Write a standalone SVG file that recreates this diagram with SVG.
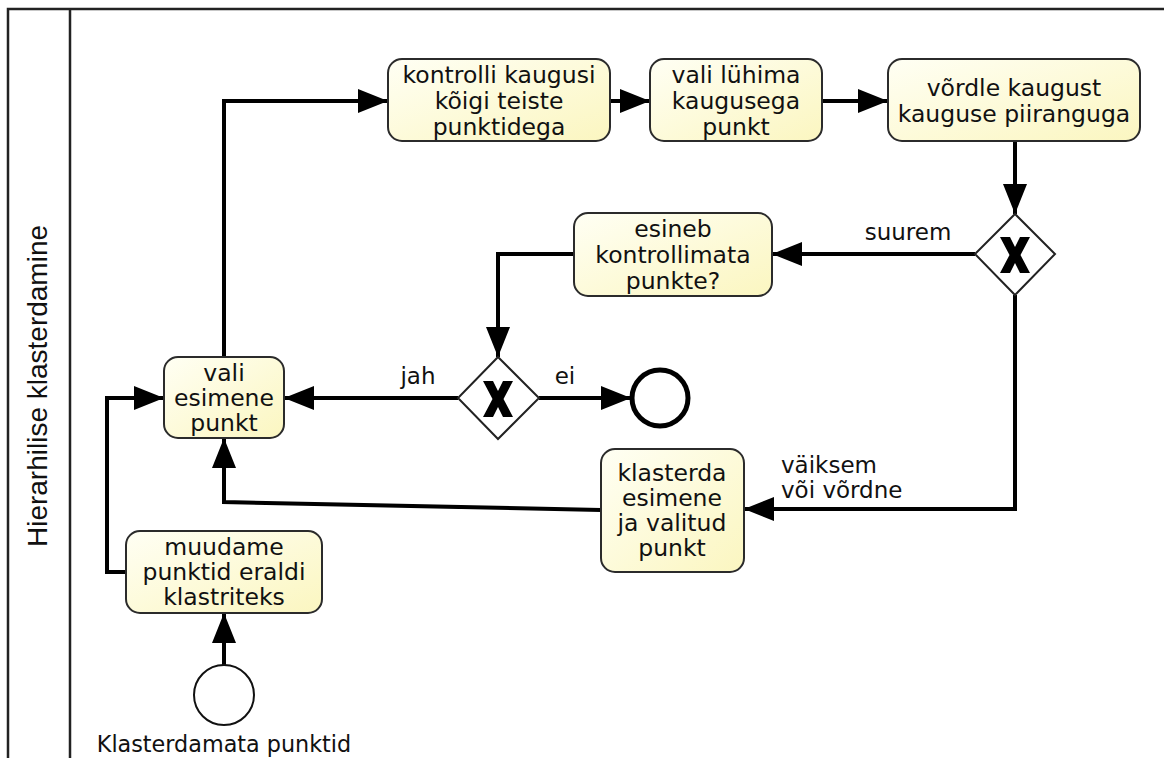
<svg xmlns="http://www.w3.org/2000/svg" width="1164" height="758" viewBox="0 0 1164 758">
<style>
.task{fill:url(#tg);stroke:#2b2b2b;stroke-width:2}
.t{font-family:"DejaVu Sans",sans-serif;font-size:23.5px;fill:#111;text-anchor:middle}
.lbl{font-family:"DejaVu Sans",sans-serif;font-size:23px;fill:#111}
.gw{fill:#fff;stroke:#222;stroke-width:2}
.xm{fill:#000}
.c{fill:none;stroke:#000;stroke-width:4;marker-end:url(#ah)}
.pool{fill:none;stroke:#222;stroke-width:2.5}
</style>
<defs>
<linearGradient id="tg" x1="0" y1="0" x2="1" y2="1">
<stop offset="0" stop-color="#fffff4"/>
<stop offset="1" stop-color="#fbf6c0"/>
</linearGradient>
<marker id="ah" markerUnits="userSpaceOnUse" markerWidth="30" markerHeight="24" refX="30" refY="12" orient="auto">
<path d="M0,0 L30,12 L0,24 z" fill="#000"/>
</marker>
</defs>
<rect width="1164" height="758" fill="#fff"/>
<g id="pool">
<path class="pool" d="M8,758 V9 H1164 M70,9 V758"/>
<text x="0" y="0" transform="translate(47,386) rotate(-90)" font-family="Liberation Sans,Arial,sans-serif" font-size="28" text-anchor="middle" fill="#111">Hierarhilise klasterdamine</text>
</g>
<g id="connectors">
<path class="c" d="M224,357 V101 H388"/>
<path class="c" d="M610,101 H650"/>
<path class="c" d="M822,101 H888"/>
<path class="c" d="M1015,141 V214"/>
<path class="c" d="M975,254 H772"/>
<path class="c" d="M574,254 H498 V357"/>
<path class="c" d="M458,398 H284"/>
<path class="c" d="M539,398 H631"/>
<path class="c" d="M1015,295 V509 H744"/>
<path class="c" d="M601,510 L224,502 V438"/>
<path class="c" d="M126,572 H107 V398 H164"/>
<path class="c" d="M224,665 V613"/>
<text class="lbl" x="908" y="240" text-anchor="middle">suurem</text>
<text class="lbl" x="418" y="384" text-anchor="middle">jah</text>
<text class="lbl" x="565" y="384" text-anchor="middle">ei</text>
<text class="lbl" x="781" y="473">väiksem</text>
<text class="lbl" x="781" y="498">või võrdne</text>
</g>
<g id="kontrolli">
<rect class="task" x="388" y="59" width="222" height="82" rx="14"/>
<text class="t" x="499" y="83">kontrolli kaugusi<tspan x="499" dy="26">kõigi teiste</tspan><tspan x="499" dy="26">punktidega</tspan></text>
</g>
<g id="vali_luhima">
<rect class="task" x="650" y="59" width="172" height="82" rx="14"/>
<text class="t" x="736" y="83">vali lühima<tspan x="736" dy="26">kaugusega</tspan><tspan x="736" dy="26">punkt</tspan></text>
</g>
<g id="vordle">
<rect class="task" x="888" y="59" width="252" height="82" rx="14"/>
<text class="t" x="1014" y="96">võrdle kaugust<tspan x="1014" dy="26">kauguse piiranguga</tspan></text>
</g>
<g id="gateway1">
<polygon class="gw" points="1015,214 1055,254 1015,295 975,254"/>
<polygon class="xm" transform="translate(1015,255)" points="-15,-18 -5,-18 0,-8 5,-18 15,-18 5.5,0 15,18 5,18 0,8 -5,18 -15,18 -5.5,0"/>
</g>
<g id="esineb">
<rect class="task" x="574" y="213" width="198" height="83" rx="14"/>
<text class="t" x="673" y="237">esineb<tspan x="673" dy="26">kontrollimata</tspan><tspan x="673" dy="26">punkte?</tspan></text>
</g>
<g id="gateway2">
<polygon class="gw" points="498,357 539,398 498,439 458,398"/>
<polygon class="xm" transform="translate(498,399)" points="-15,-18 -5,-18 0,-8 5,-18 15,-18 5.5,0 15,18 5,18 0,8 -5,18 -15,18 -5.5,0"/>
</g>
<g id="end">
<circle cx="660" cy="398" r="28" fill="#fff" stroke="#000" stroke-width="5"/>
</g>
<g id="vali_esimene">
<rect class="task" x="164" y="357" width="120" height="81" rx="14"/>
<text class="t" x="224" y="381">vali<tspan x="224" dy="25">esimene</tspan><tspan x="224" dy="25">punkt</tspan></text>
</g>
<g id="klasterda">
<rect class="task" x="601" y="449" width="143" height="123" rx="14"/>
<text class="t" x="672" y="481">klasterda<tspan x="672" dy="25">esimene</tspan><tspan x="672" dy="25">ja valitud</tspan><tspan x="672" dy="25">punkt</tspan></text>
</g>
<g id="muudame">
<rect class="task" x="126" y="531" width="196" height="82" rx="14"/>
<text class="t" x="224" y="555">muudame<tspan x="224" dy="25">punktid eraldi</tspan><tspan x="224" dy="25">klastriteks</tspan></text>
</g>
<g id="start">
<circle cx="224" cy="695" r="30" fill="#fff" stroke="#111" stroke-width="2"/>
<text x="224" y="752" font-family="DejaVu Sans,sans-serif" font-size="22.3" text-anchor="middle" fill="#111">Klasterdamata punktid</text>
</g>
</svg>
